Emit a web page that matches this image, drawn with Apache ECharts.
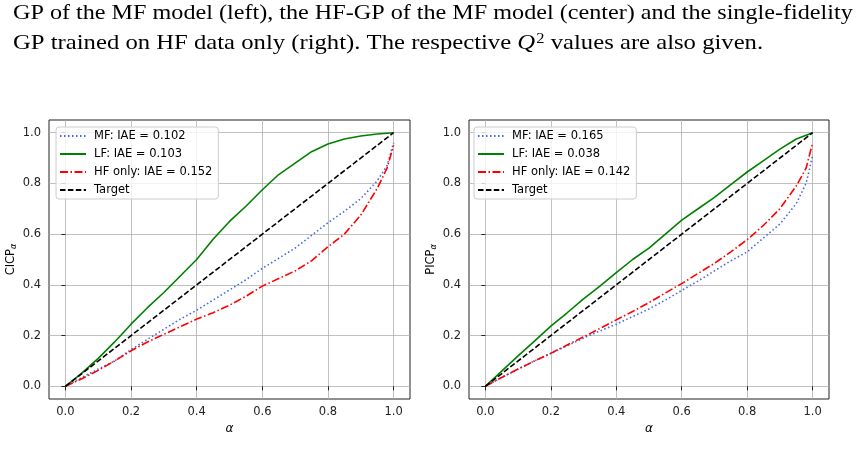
<!DOCTYPE html>
<html>
<head>
<meta charset="utf-8">
<script src="https://cdn.jsdelivr.net/npm/echarts@6/dist/echarts.min.js"></script>
<style>
  html, body { margin: 0; padding: 0; background: #fff; }
  #main { width: 863px; height: 472px; }
</style>
</head>
<body>
<div id="main"></div>
<script>
// alpha values and curve readings, [alpha, coverage]
var alphaTicks = [0, 0.2, 0.4, 0.6, 0.8, 1.0];
var covTicks = [0, 0.2, 0.4, 0.6, 0.8, 1.0];

// left panel (CICP)
var cicpMF = [[0,0],[0.05,0.035],[0.1,0.068],[0.15,0.1],[0.2,0.145],[0.25,0.185],[0.3,0.225],[0.35,0.265],[0.4,0.3],[0.45,0.34],[0.5,0.38],[0.55,0.42],[0.6,0.465],[0.65,0.505],[0.7,0.545],[0.75,0.595],[0.8,0.645],[0.85,0.69],[0.9,0.74],[0.95,0.81],[0.98,0.87],[1.0,0.96]];
var cicpLF = [[0,0],[0.05,0.052],[0.1,0.11],[0.15,0.175],[0.2,0.245],[0.25,0.31],[0.3,0.37],[0.35,0.435],[0.4,0.5],[0.45,0.58],[0.5,0.65],[0.55,0.71],[0.6,0.775],[0.65,0.835],[0.7,0.88],[0.75,0.925],[0.8,0.955],[0.85,0.975],[0.9,0.987],[0.95,0.995],[1.0,1.0]];
var cicpHF = [[0,0],[0.05,0.03],[0.1,0.063],[0.15,0.1],[0.2,0.14],[0.25,0.175],[0.3,0.205],[0.35,0.235],[0.4,0.265],[0.45,0.29],[0.5,0.32],[0.55,0.355],[0.6,0.395],[0.65,0.425],[0.7,0.455],[0.75,0.495],[0.8,0.55],[0.85,0.6],[0.9,0.675],[0.95,0.78],[0.98,0.86],[1.0,0.95]];

// right panel (PICP)
var picpMF = [[0,0],[0.05,0.035],[0.1,0.068],[0.15,0.1],[0.2,0.13],[0.25,0.16],[0.3,0.19],[0.35,0.218],[0.4,0.245],[0.45,0.275],[0.5,0.305],[0.55,0.34],[0.6,0.378],[0.65,0.415],[0.7,0.455],[0.75,0.495],[0.8,0.53],[0.85,0.585],[0.9,0.64],[0.95,0.72],[0.98,0.8],[1.0,0.91]];
var picpLF = [[0,0],[0.05,0.06],[0.1,0.12],[0.15,0.178],[0.2,0.237],[0.25,0.29],[0.3,0.345],[0.35,0.395],[0.4,0.448],[0.45,0.5],[0.5,0.545],[0.55,0.6],[0.6,0.655],[0.65,0.7],[0.7,0.745],[0.75,0.795],[0.8,0.845],[0.85,0.89],[0.9,0.935],[0.95,0.975],[1.0,1.0]];
var picpHF = [[0,0],[0.05,0.035],[0.1,0.068],[0.15,0.1],[0.2,0.13],[0.25,0.163],[0.3,0.195],[0.35,0.228],[0.4,0.262],[0.45,0.295],[0.5,0.33],[0.55,0.368],[0.6,0.405],[0.65,0.445],[0.7,0.485],[0.75,0.53],[0.8,0.578],[0.85,0.635],[0.9,0.7],[0.95,0.79],[0.98,0.86],[1.0,0.96]];

var target = [[0,0],[1,1]];

var leftNames = ['MF: IAE = 0.102', 'LF: IAE = 0.103', 'HF only: IAE = 0.152', 'Target'];
var rightNames = ['MF: IAE = 0.165', 'LF: IAE = 0.038', 'HF only: IAE = 0.142', 'Target'];

var captionLine1 = 'GP of the MF model (left), the HF-GP of the MF model (center) and the single-fidelity';
var captionLine2 = 'GP trained on HF data only (right). The respective {i|Q}{sup|2} values are also given.';

var font = 'DejaVu Sans';
var serif = 'Liberation Serif';
var grids = [
    { left: 49, top: 120, width: 361, height: 279 },
    { left: 469, top: 120, width: 360, height: 279 }
];

function makeX(idx) {
    return {
        type: 'value', gridIndex: idx, min: -0.05, max: 1.05,
        name: 'α', nameLocation: 'middle', nameGap: 24,
        nameTextStyle: { fontFamily: font, fontSize: 12, fontStyle: 'italic', color: '#000' },
        axisLine: { show: false },
        axisTick: { show: true, length: 4, customValues: alphaTicks, lineStyle: { color: '#222' } },
        axisLabel: { customValues: alphaTicks, margin: 7, fontFamily: font, fontSize: 11.5, color: '#222',
            formatter: function (v) { return v.toFixed(1); } },
        splitLine: { show: true, lineStyle: { color: '#b0b0b0', width: 0.8 } }
    };
}
function makeY(idx, label, gap) {
    return {
        type: 'value', gridIndex: idx, min: -0.05, max: 1.05,
        name: '{a|' + label + '}{s|α}', nameLocation: 'middle', nameGap: gap, nameRotate: 90,
        nameTextStyle: { rich: {
            a: { fontFamily: font, fontSize: 11.5, color: '#000' },
            s: { fontFamily: font, fontSize: 8, fontStyle: 'italic', color: '#000', padding: [5, 0, 0, 0] }
        } },
        axisLine: { show: false },
        axisTick: { show: true, length: 4, customValues: covTicks, lineStyle: { color: '#222' } },
        axisLabel: { customValues: covTicks, margin: 8, fontFamily: font, fontSize: 11.5, color: '#222',
            formatter: function (v) { return v.toFixed(1); } },
        splitLine: { show: true, lineStyle: { color: '#b0b0b0', width: 0.8 } }
    };
}
function makeSeries(idx, names, mf, lf, hf) {
    var base = { type: 'line', xAxisIndex: idx, yAxisIndex: idx, symbol: 'none', silent: true, animation: false };
    return [
        Object.assign({}, base, { name: names[0], data: mf, lineStyle: { color: '#4169e1', width: 1.6, type: [1.5, 2.5] }, itemStyle: { color: '#4169e1' } }),
        Object.assign({}, base, { name: names[1], data: lf, lineStyle: { color: '#008000', width: 1.6, type: 'solid' }, itemStyle: { color: '#008000' } }),
        Object.assign({}, base, { name: names[2], data: hf, lineStyle: { color: '#ff0000', width: 1.6, type: [8, 2.5, 1.5, 2.5] }, itemStyle: { color: '#ff0000' } }),
        Object.assign({}, base, { name: names[3], data: target, lineStyle: { color: '#000', width: 1.6, type: [5.5, 2.4] }, itemStyle: { color: '#000' } })
    ];
}
function makeLegend(names, left) {
    return {
        data: names, orient: 'vertical', left: left, top: 127,
        itemWidth: 26, itemHeight: 12, itemGap: 6,
        padding: [3, 6, 3, 3], backgroundColor: 'rgba(255,255,255,0.8)',
        borderColor: '#ccc', borderWidth: 1, borderRadius: 3,
        selectedMode: false,
        itemStyle: { opacity: 0 },
        textStyle: { fontFamily: font, fontSize: 11.5, color: '#000', padding: [0, 0, 0, 3] }
    };
}

var myChart = echarts.init(document.getElementById('main'), null, { renderer: 'canvas' });
var option = {
    animation: false,
    backgroundColor: '#fff',
    grid: grids.map(function (g) { return Object.assign({ show: true, borderColor: '#222', borderWidth: 1, backgroundColor: 'transparent' }, g); }),
    xAxis: [makeX(0), makeX(1)],
    yAxis: [makeY(0, 'CICP', 31), makeY(1, 'PICP', 31)],
    legend: [makeLegend(leftNames, 56), makeLegend(rightNames, 474)],
    series: makeSeries(0, leftNames, cicpMF, cicpLF, cicpHF).concat(makeSeries(1, rightNames, picpMF, picpLF, picpHF)),
    graphic: [
        { type: 'text', x: 13, y: 3, scaleX: 1.15, style: { text: captionLine1, fontFamily: serif, fontSize: 21, fill: '#000' } },
        { type: 'text', x: 13, y: 32, scaleX: 1.175, style: { text: captionLine2, fontFamily: serif, fontSize: 21, fill: '#000',
            rich: { i: { fontFamily: serif, fontSize: 21, fontStyle: 'italic' }, sup: { fontFamily: serif, fontSize: 14, verticalAlign: 'top', padding: [0, 0, 8, 1] } } } }
    ]
};
myChart.setOption(option);
window.addEventListener('resize', myChart.resize);
</script>
</body>
</html>
